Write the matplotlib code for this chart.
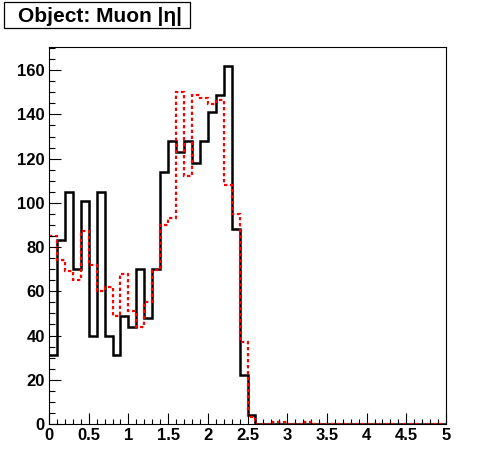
import numpy as np
import matplotlib
matplotlib.use('Agg')
import matplotlib.pyplot as plt
from matplotlib.patches import Rectangle
from matplotlib.ticker import MultipleLocator

plt.rcParams['font.family'] = ['Liberation Sans', 'DejaVu Sans']
plt.rcParams['font.weight'] = 'bold'

# 히스토그램 구간 (0 ~ 5, 폭 0.1)
bin_edges = np.linspace(0, 5, 51)

# 검은 실선 히스토그램
black_counts = [31, 83, 105, 70, 101, 40, 105, 40, 31, 49,
                44, 70, 48, 70, 114, 128, 123, 128, 118, 128,
                141, 149, 162, 88, 22, 4, 0, 0, 0, 0,
                0, 0, 0, 0, 0, 0, 0, 0, 0, 0,
                0, 0, 0, 0, 0, 0, 0, 0, 0, 0]

# 빨간 점선 히스토그램
red_counts = [85, 74, 69, 65, 87.5, 72, 60, 62, 49, 68,
              51, 44, 55, 69.5, 90, 93, 150, 112, 149, 147.5,
              144.5, 146.5, 108, 95, 37, 3, 0, 0, 0.8, 0.8,
              0, 0, 0.8, 0, 0, 0, 0, 0, 0, 0,
              0, 0, 0, 0, 0, 0, 0, 0, 0, 0]

title_text = 'Object: Muon |η|'

W, H = 496, 472
fig = plt.figure(figsize=(W / 100, H / 100), dpi=100)
ax = fig.add_axes([49 / W, (H - 424) / H, (446 - 49) / W, (424 - 47) / H])

ax.stairs(black_counts, bin_edges, color='black', linewidth=1.8, baseline=None)
ax.stairs(red_counts, bin_edges, color='red', linewidth=1.6,
          linestyle=(0, (1.5, 1.2)), baseline=None)

ax.set_xlim(0, 5)
ax.set_ylim(0, 170.5)

ax.xaxis.set_major_locator(MultipleLocator(0.5))
ax.xaxis.set_minor_locator(MultipleLocator(0.1))
ax.yaxis.set_major_locator(MultipleLocator(20))
ax.yaxis.set_minor_locator(MultipleLocator(5))
ax.xaxis.set_major_formatter(plt.FuncFormatter(lambda v, p: f'{v:g}'))

ax.tick_params(axis='both', which='both', direction='in', top=False, right=False,
               labelsize=12, pad=3, width=0.8)
ax.tick_params(axis='x', which='major', length=8)
ax.tick_params(axis='x', which='minor', length=3.6)
ax.tick_params(axis='y', which='major', length=8.6)
ax.tick_params(axis='y', which='minor', length=4.3)
for lab in ax.get_xticklabels() + ax.get_yticklabels():
    lab.set_fontweight('bold')
for s in ax.spines.values():
    s.set_linewidth(0.8)

# 제목 상자
fig.patches.append(Rectangle((4 / W, 1 - 28 / H), (190 - 4) / W, (28 - 2) / H,
                             transform=fig.transFigure, facecolor='white',
                             edgecolor='black', linewidth=0.9))
fig.text(100 / W, 1 - 16 / H, title_text, ha='center', va='center',
         fontsize=15, fontweight='bold')

fig.savefig('out.png', dpi=100)
